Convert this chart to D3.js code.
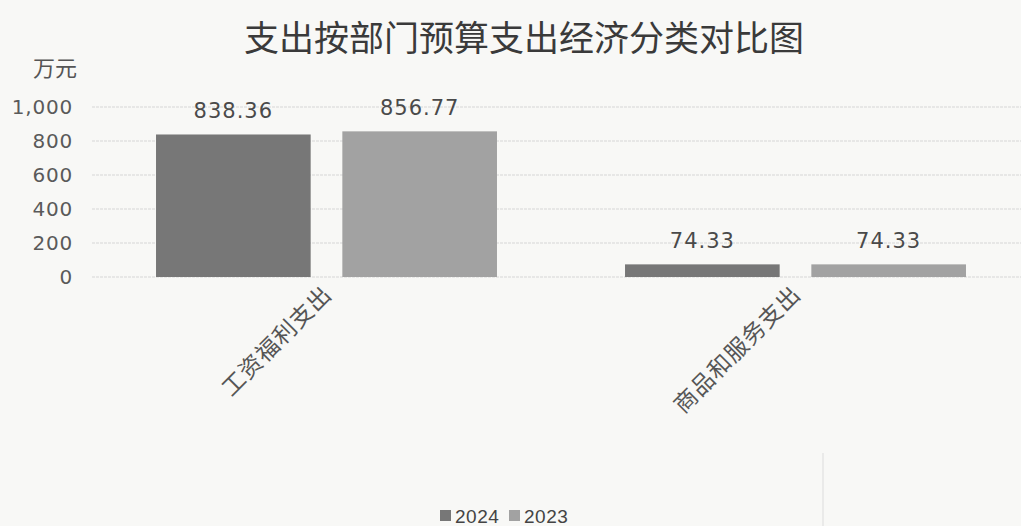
<!DOCTYPE html>
<html>
<head>
<meta charset="utf-8">
<script src="https://cdn.jsdelivr.net/npm/d3@7"></script>
<style>
  body { margin: 0; background: #f8f8f6; }
  svg { display: block; }
  text { font-family: "DejaVu Sans", "Noto Sans CJK SC", sans-serif; }
</style>
</head>
<body>
<div class="chart"></div>
<script>
// data
var categories = ["工资福利支出", "商品和服务支出"];
var seriesNames = ["2024", "2023"];
var values2024 = [838.36, 74.33];
var values2023 = [856.77, 74.33];
var yTicks = [0, 200, 400, 600, 800, 1000];
var colors = ["#777777", "#a2a2a2"];

var W = 1021, H = 526;
var margin = {top: 107, right: -9, bottom: 249, left: 92};
var width = W - margin.left - margin.right,
    height = H - margin.top - margin.bottom;

var svg = d3.select(".chart").append("svg")
    .attr("width", W)
    .attr("height", H)
    .style("background-color", "#f8f8f6");

var g = svg.append("g")
    .attr("transform", "translate(" + margin.left + "," + margin.top + ")");

var rows = categories.map(function(c, i) {
    return {cat: c, vals: [values2024[i], values2023[i]]};
});

// scales
var x0 = d3.scaleBand().domain(categories).range([0, width]).paddingInner(0.273).paddingOuter(0.1365);
var x1 = d3.scaleBand().domain(seriesNames).range([0, x0.bandwidth()]).paddingInner(0.17);
var y = d3.scaleLinear().domain([0, 1000]).range([height, 0]);

// title
svg.append("text")
    .attr("x", 524)
    .attr("y", 51)
    .attr("text-anchor", "middle")
    .style("font-family", "'Noto Sans CJK SC', sans-serif")
    .style("font-size", "35px")
    .style("fill", "#3a3a3a")
    .text("支出按部门预算支出经济分类对比图");

// unit
svg.append("text")
    .attr("x", 77)
    .attr("y", 76)
    .attr("text-anchor", "end")
    .style("font-family", "'Noto Sans CJK SC', sans-serif")
    .style("font-size", "22px")
    .style("fill", "#555")
    .text("万元");

// gridlines
g.append("g")
    .selectAll("line")
    .data(yTicks)
    .enter()
    .append("line")
        .attr("x1", 0)
        .attr("x2", width)
        .attr("y1", function(d) { return y(d); })
        .attr("y2", function(d) { return y(d); })
        .style("stroke", "#d6d6d6")
        .style("stroke-width", 1)
        .style("stroke-dasharray", "3,1");

// y axis
var yaxis = d3.axisLeft(y).tickValues(yTicks).tickSize(0).tickPadding(19)
    .tickFormat(d3.format(","));
var ya = g.append("g").call(yaxis);
ya.select(".domain").remove();
ya.selectAll("text")
    .style("font-size", "20px")
    .style("fill", "#5a5a5a")
    .style("letter-spacing", "0.8px");

// bars
var groups = g.append("g")
    .selectAll("g")
    .data(rows)
    .enter()
    .append("g")
        .attr("transform", function(d) { return "translate(" + x0(d.cat) + ",0)"; });

groups.selectAll("rect")
    .data(function(d) { return d.vals.map(function(v, i) { return {name: seriesNames[i], v: v, i: i}; }); })
    .enter()
    .append("rect")
        .attr("x", function(d) { return x1(d.name); })
        .attr("y", function(d) { return y(d.v); })
        .attr("width", x1.bandwidth())
        .attr("height", function(d) { return y(0) - y(d.v); })
        .attr("fill", function(d) { return colors[d.i]; });

// value labels
groups.selectAll(".val")
    .data(function(d) { return d.vals.map(function(v, i) { return {name: seriesNames[i], v: v}; }); })
    .enter()
    .append("text")
        .attr("class", "val")
        .attr("x", function(d) { return x1(d.name) + x1.bandwidth() / 2; })
        .attr("y", function(d) { return y(d.v) - 16; })
        .attr("text-anchor", "middle")
        .style("font-size", "21px")
        .style("letter-spacing", "1px")
        .style("fill", "#4a4a4a")
        .text(function(d) { return d3.format(".2f")(d.v); });

// category labels
g.append("g")
    .selectAll("text")
    .data(categories)
    .enter()
    .append("text")
        .attr("transform", function(d) {
            return "translate(" + (x0(d) + x0.bandwidth() / 2 + 1) + "," + (height + 13) + ") rotate(-45)";
        })
        .attr("text-anchor", "end")
        .attr("dy", "0.35em")
        .style("font-family", "'Noto Sans CJK SC', sans-serif")
        .style("font-size", "23px")
        .style("letter-spacing", "1px")
        .style("fill", "#555")
        .text(function(d) { return d; });

// legend
var legend = svg.append("g").attr("transform", "translate(440,510)");
var lx = [0, 69];
seriesNames.forEach(function(s, i) {
    legend.append("rect")
        .attr("x", lx[i])
        .attr("y", 0)
        .attr("width", 11)
        .attr("height", 11)
        .attr("fill", colors[i]);
    legend.append("text")
        .attr("x", lx[i] + 15)
        .attr("y", 13)
        .style("font-family", "'Liberation Sans', sans-serif")
        .style("font-size", "19px")
        .style("letter-spacing", "0.5px")
        .style("fill", "#444")
        .text(s);
});

// faint scan edge on the right
svg.append("line")
    .attr("x1", 823).attr("x2", 823)
    .attr("y1", 453).attr("y2", H)
    .style("stroke", "#dcdcdc")
    .style("stroke-width", 1);
</script>
</body>
</html>
